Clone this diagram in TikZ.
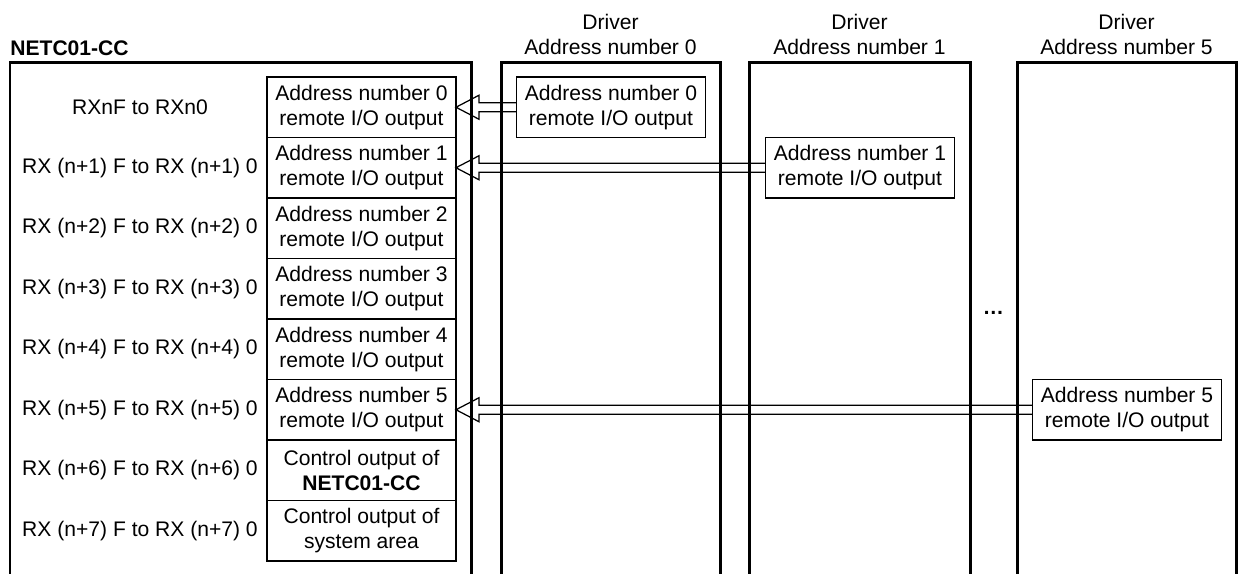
\documentclass[tikz,border=0pt]{standalone}
\usepackage{fontspec}
\setmainfont{Liberation Sans}
\usetikzlibrary{calc}

% hollow arrow from a driver box (#1) to a NETC01-CC cell (#2)
\newcommand{\outarrow}[2]{%
	\draw[arrowline] let \p1=(#1.west), \p2=(#2.east) in
		(\x1,{\y1+0.09cm}) -- ({\x2+0.46cm},{\y1+0.09cm}) -- ({\x2+0.46cm},{\y1+0.24cm})
		-- (\x2,\y1) -- ({\x2+0.46cm},{\y1-0.24cm}) -- ({\x2+0.46cm},{\y1-0.09cm}) -- (\x1,{\y1-0.09cm});
}

\begin{document}
\fontsize{12}{14.2}\selectfont
\begin{tikzpicture}[x=0.02cm, y=-0.02cm,
		frame/.style={line width=0.06cm},
		cell/.style={draw, line width=0.03cm, minimum width=3.78cm, minimum height=1.21cm,
			inner sep=0pt, outer sep=0pt, align=center},
		arrowline/.style={line width=0.025cm}]
		\useasboundingbox (0,0) rectangle (1238,574);
		
		% Headers
		\node[anchor=west, inner sep=0pt, font=\bfseries] (title) at (10,48) {NETC01-CC};
		\node[align=center] (hd0) at (610.5,34) {Driver\\Address number 0};
		\node[align=center] (hd1) at (859.5,34) {Driver\\Address number 1};
		\node[align=center] (hd5) at (1126.5,34) {Driver\\Address number 5};
		
		% Frames, open at the bottom
		\draw[frame] (10,574) |- (471,63) -- (471,574);
		\draw[frame] (501,574) |- (720,63) -- (720,574);
		\draw[frame] (749,574) |- (970,63) -- (970,574);
		\draw[frame] (1017,574) |- (1236,63) -- (1236,574);
		\node[anchor=base] (dots) at (993.5,315) {\bfseries\ldots};
		
		% NETC01-CC remote I/O area
		\foreach \i in {0,...,5}
			\node[cell] (out\i) at (361.5,{107.25+60.5*\i}) {Address number \i\\remote I/O output};
		\node[cell] (ctl6) at (361.5,470.25) {Control output of\\\textbf{NETC01-CC}};
		\node[cell] (ctl7) at (361.5,530.75) {Control output of\\system area};
		
		\node (rx0) at (140,107.25) {RXnF to RXn0};
		\foreach \i in {1,...,7}
			\node (rx\i) at (140,{107.25+60.5*\i}) {RX (n+\i) F to RX (n+\i) 0};
		
		% Driver outputs
		\node[cell] (drv0) at (611,107.25) {Address number 0\\remote I/O output};
		\node[cell] (drv1) at (860,167.75) {Address number 1\\remote I/O output};
		\node[cell] (drv5) at (1127,409.75) {Address number 5\\remote I/O output};
		
		% Arrows
		\outarrow{drv0}{out0}
		\outarrow{drv1}{out1}
		\outarrow{drv5}{out5}
	\end{tikzpicture}
\end{document}
